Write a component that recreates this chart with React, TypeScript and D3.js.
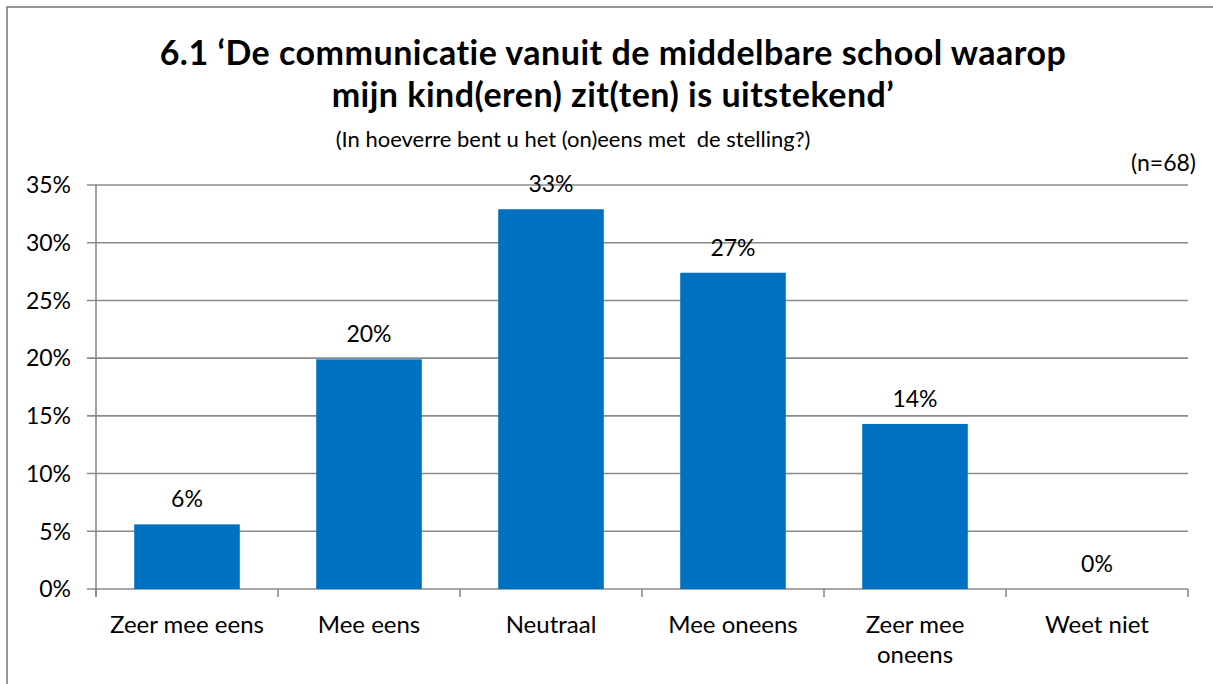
import React, { useEffect, useRef } from "react";
import * as d3 from "d3";

const categories = ["Zeer mee eens", "Mee eens", "Neutraal", "Mee oneens", "Zeer mee oneens", "Weet niet"];
const values = [5.6, 19.9, 32.9, 27.4, 14.3, 0];
const valueLabels = ["6%", "20%", "33%", "27%", "14%", "0%"];
const yTicks = [0, 5, 10, 15, 20, 25, 30, 35];
const titleLines = ["6.1 \u2018De communicatie vanuit de middelbare school waarop", "mijn kind(eren) zit(ten) is uitstekend\u2019"];
const subtitle = "(In hoeverre bent u het (on)eens met  de stelling?)";
const nLabel = "(n=68)";

const W = 1213;
const H = 684;
const FONT = "Lato, 'Open Sans', sans-serif";

export default function App() {
  const ref = useRef<SVGSVGElement | null>(null);

  useEffect(() => {
    const svg = d3.select(ref.current);
    svg.selectAll("*").remove();

    const left = 96, right = 1188, top = 185, bottom = 589;
    const x = d3.scaleBand<string>().domain(categories).range([left, right]).paddingInner(0.42).paddingOuter(0.21);
    const xb = d3.scaleBand<string>().domain(categories).range([left, right]);
    const y = d3.scaleLinear().domain([0, 35]).range([bottom, top]);

    // border
    svg.append("rect").attr("x", 7).attr("y", 7).attr("width", W + 10).attr("height", H + 10)
      .attr("fill", "white").attr("stroke", "#8c8c8c").attr("stroke-width", 1.8);

    // title
    const tg = svg.append("g");
    titleLines.forEach((t, i) => {
      tg.append("text").attr("x", 613).attr("y", 65 + i * 42).attr("text-anchor", "middle")
        .attr("font-family", FONT).attr("font-weight", 700).attr("font-size", 34)
        .attr("letter-spacing", 0.5).attr("fill", "#000").text(t);
    });
    tg.append("text").attr("x", 573).attr("y", 147).attr("text-anchor", "middle")
      .attr("font-family", FONT).attr("font-size", 22).attr("fill", "#000")
      .style("white-space", "pre").text(subtitle);
    tg.append("text").attr("x", 1196).attr("y", 171).attr("text-anchor", "end")
      .attr("font-family", FONT).attr("font-size", 23).attr("fill", "#000").text(nLabel);

    // gridlines
    svg.append("g").selectAll("line").data(yTicks).join("line")
      .attr("x1", left - 9).attr("x2", right).attr("y1", (d) => y(d)).attr("y2", (d) => y(d))
      .attr("stroke", "#8a8a8a").attr("stroke-width", 1.6);

    // y labels
    svg.append("g").selectAll("text").data(yTicks).join("text")
      .attr("x", 71).attr("y", (d) => y(d)).attr("dy", "0.36em").attr("text-anchor", "end")
      .attr("font-family", FONT).attr("font-size", 23).attr("fill", "#000").text((d) => `${d}%`);

    // y axis line
    svg.append("line").attr("x1", left).attr("x2", left).attr("y1", top).attr("y2", bottom + 8)
      .attr("stroke", "#8a8a8a").attr("stroke-width", 1.6);

    // x ticks
    const tickXs = categories.map((c) => xb(c) as number).concat([right]);
    svg.append("g").selectAll("line").data(tickXs).join("line")
      .attr("x1", (d) => d).attr("x2", (d) => d).attr("y1", bottom).attr("y2", bottom + 8)
      .attr("stroke", "#8a8a8a").attr("stroke-width", 1.6);

    // bars
    svg.append("g").selectAll("rect").data(categories).join("rect")
      .attr("x", (d) => x(d) as number).attr("width", x.bandwidth())
      .attr("y", (d, i) => y(values[i])).attr("height", (d, i) => bottom - y(values[i]))
      .attr("fill", "#0070C0");

    // value labels
    svg.append("g").selectAll("text").data(categories).join("text")
      .attr("x", (d) => (x(d) as number) + x.bandwidth() / 2).attr("y", (d, i) => y(values[i]) - 17)
      .attr("text-anchor", "middle").attr("font-family", FONT).attr("font-size", 23).attr("fill", "#000")
      .text((d, i) => valueLabels[i]);

    // category labels with wrapping
    const lg = svg.append("g");
    categories.forEach((c) => {
      const cx = (xb(c) as number) + xb.bandwidth() / 2;
      const t = lg.append("text").attr("x", cx).attr("y", 633).attr("text-anchor", "middle")
        .attr("font-family", FONT).attr("font-size", 24).attr("fill", "#000").text(c);
      const node = t.node() as SVGTextElement;
      if (node.getComputedTextLength() > xb.bandwidth() - 4) {
        t.text(null);
        const words = c.split(" ");
        const lines: string[] = [];
        let cur = "";
        words.forEach((w) => {
          const test = cur ? cur + " " + w : w;
          t.text(test);
          if (node.getComputedTextLength() > xb.bandwidth() - 40 && cur) {
            lines.push(cur);
            cur = w;
          } else cur = test;
        });
        if (cur) lines.push(cur);
        t.text(null);
        lines.forEach((ln, i) => {
          t.append("tspan").attr("x", cx).attr("dy", i === 0 ? 0 : 30).text(ln);
        });
      }
    });
  }, []);

  return (
    <svg ref={ref} width={W} height={H} style={{ position: "absolute", left: 0, top: 0, background: "white" }} />
  );
}
